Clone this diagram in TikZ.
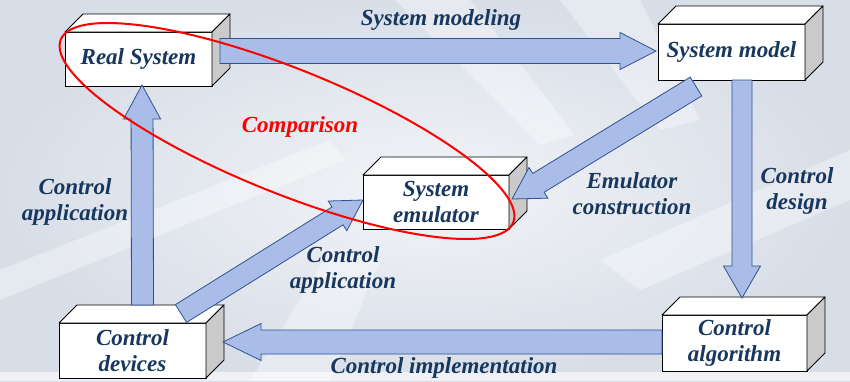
\documentclass[tikz,border=0pt]{standalone}
\usepackage{fontspec}
\setmainfont{Liberation Serif}
\usetikzlibrary{calc}

\definecolor{bgdark}{RGB}{216,222,232}
\definecolor{bglight}{RGB}{242,244,247}
\definecolor{arrowfill}{RGB}{169,189,232}
\definecolor{arrowline}{RGB}{47,82,143}
\definecolor{labelblue}{RGB}{23,55,94}
\definecolor{sideface}{RGB}{202,202,202}
\definecolor{ringred}{RGB}{255,0,0}

\tikzset{
  lbl/.style={font=\fontsize{23}{26}\selectfont\bfseries\itshape,
              text=labelblue, align=center, inner sep=0pt},
  front/.style={lbl, draw=black, fill=white, line width=0.9pt, outer sep=0pt},
  facedraw/.style={draw=black, line width=0.9pt, line join=round},
  fat/.style={draw=arrowline, fill=arrowfill, line width=0.8pt, line join=miter},
  streak/.style={fill=white, opacity=0.35},
}

% A box drawn as a cuboid: front face is the named node
% #1 name, #2 centre, #3 width, #4 height, #5 text
\newcommand\cuboid[5]{%
  \node[front, minimum width=#3, minimum height=#4] (#1) at (#2) {#5};
  \draw[facedraw, fill=white] (#1.north west) -- ++(18,-18)
     -- ([shift={(18,-18)}]#1.north east) -- (#1.north east) -- cycle;
  \draw[facedraw, fill=sideface] (#1.north east) -- ++(18,-18)
     -- ([shift={(18,-18)}]#1.south east) -- (#1.south east) -- cycle;
}

% Block arrow from tail centre #1 to tip #2;
% #3 shaft half width, #4 head half width, #5 head length
\newcommand\fatarrow[5]{%
  \draw[fat]
    ($(#1)!#3!90:(#2)$)
    -- ($($(#2)!#5!(#1)$)!#3!90:(#2)$)
    -- ($($(#2)!#5!(#1)$)!#4!90:(#2)$)
    -- (#2)
    -- ($($(#2)!#5!(#1)$)!#4!-90:(#2)$)
    -- ($($(#2)!#5!(#1)$)!#3!-90:(#2)$)
    -- ($(#1)!#3!-90:(#2)$)
    -- cycle;
}

\begin{document}
\begin{tikzpicture}[x=1pt, y=-1pt]
  \useasboundingbox (0,0) rectangle (850,381);

  % background
  \shade[inner color=bglight, outer color=bgdark] (0,0) rectangle (850,381);
  \fill[streak] (395,0) -- (470,0) -- (575,135) -- (540,145) -- cycle;
  \fill[streak] (0,300) -- (0,270) -- (330,140) -- (345,160) -- cycle;
  \fill[streak] (560,0) -- (640,0) -- (700,120) -- (660,130) -- cycle;
  \fill[streak] (600,260) -- (850,150) -- (850,200) -- (640,290) -- cycle;
  \fill[streak] (250,381) -- (330,250) -- (380,260) -- (330,381) -- cycle;
  \fill[white, opacity=0.6] (0,372) rectangle (850,381);

  % boxes
  \cuboid{real}{138.5,59}{147pt}{54pt}{Real System}
  \cuboid{model}{731.5,52}{147pt}{56pt}{System model}
  \cuboid{emul}{436,202}{146pt}{54pt}{System\\emulator}
  \cuboid{dev}{132.5,350.5}{147pt}{55pt}{Control\\devices}
  \cuboid{alg}{734.5,343}{145pt}{56pt}{Control\\algorithm}

  % connector end points on the boxes
  \coordinate (modTail) at ([shift={(8,-8)}]real.east);
  \coordinate (modTip)  at ([shift={(-2,-1)}]model.west);
  \coordinate (appTail) at ([shift={(10,-18)}]dev.north);
  \coordinate (appTip)  at ([shift={(3.5,-1)}]real.south);
  \coordinate (desTail) at ([shift={(10.5,0)}]model.south);
  \coordinate (desTip)  at ([shift={(7.5,-17)}]alg.north);
  \coordinate (impTail) at ([shift={(0,-1)}]alg.west);
  \coordinate (impTip)  at ([shift={(17,-8.5)}]dev.east);
  \coordinate (conTail) at ([shift={(-35.5,6.5)}]model.south);
  \coordinate (conTip)  at ([shift={(3,-3)}]emul.east);
  \coordinate (emaTail) at ([shift={(48.5,-9.5)}]dev.north);
  \coordinate (emaTip)  at ([shift={(0,-2)}]emul.west);

  % connectors
  \fatarrow{modTail}{modTip}{12.5pt}{18.5pt}{36pt}
  \fatarrow{appTail}{appTip}{11pt}{18.5pt}{34pt}
  \fatarrow{desTail}{desTip}{10pt}{18.5pt}{32pt}
  \fatarrow{impTail}{impTip}{12pt}{18.5pt}{38pt}
  \fatarrow{conTail}{conTip}{11pt}{18pt}{31pt}
  \fatarrow{emaTail}{emaTip}{10.5pt}{17.5pt}{30pt}

  % connector labels
  \node[lbl] (lmod) at (441,20) {System modeling};
  \node[lbl] (lapp) at (75,202) {Control\\application};
  \node[lbl] (lcon) at (632,194) {Emulator\\construction};
  \node[lbl] (ldes) at (797,191) {Control\\design};
  \node[lbl] (lema) at (343,270) {Control\\application};
  \node[lbl] (limp) at (444,368) {Control implementation};

  % comparison ring
  \draw[ringred, line width=2pt, rotate around={-22:(287,131)}]
    (287,131) ellipse [x radius=244pt, y radius=62pt];
  \node[lbl, text=ringred] (lcmp) at (300,127) {Comparison};
\end{tikzpicture}
\end{document}
